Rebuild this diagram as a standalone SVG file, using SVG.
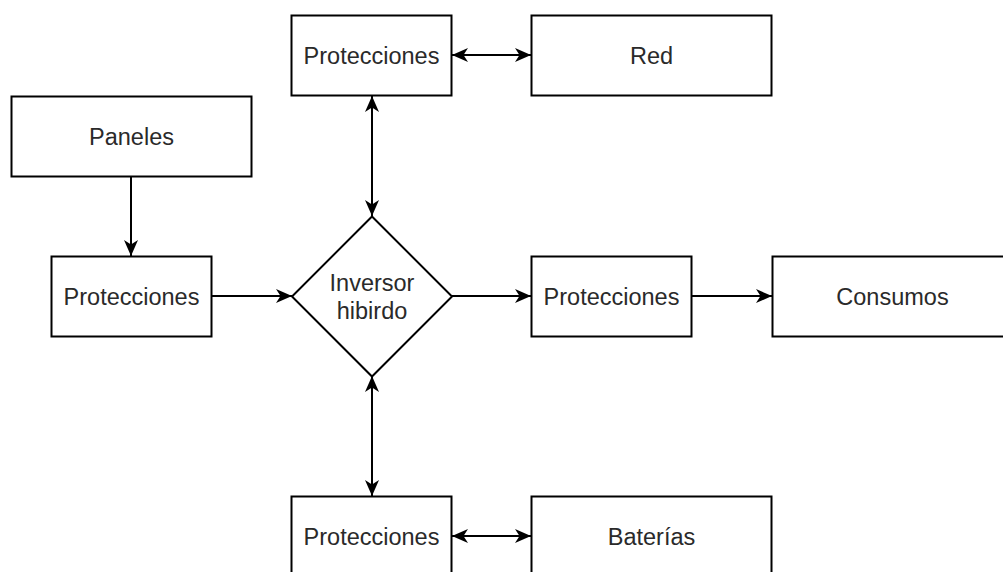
<svg xmlns="http://www.w3.org/2000/svg" width="1003" height="572" viewBox="0 0 1003 572">
<style>
.n{fill:#fff;stroke:#000;stroke-width:2}
.t{font-family:"Liberation Sans",Arial,sans-serif;font-size:23.5px;fill:#2a2a2a;text-anchor:middle}
.c{fill:none;stroke:#000;stroke-width:2}
</style>
<defs>
<marker id="ah" viewBox="0 0 16 16" refX="16" refY="8" markerWidth="16" markerHeight="16" markerUnits="userSpaceOnUse" orient="auto-start-reverse">
<path d="M16,8 L0,1 L4.5,8 L0,15 Z" fill="#000"/>
</marker>
</defs>
<rect width="1003" height="572" fill="#fff"/>
<g id="connectors">
<line class="c" x1="131" y1="176" x2="131" y2="256" marker-end="url(#ah)"/>
<line class="c" x1="211" y1="296" x2="292" y2="296" marker-end="url(#ah)"/>
<line class="c" x1="452" y1="296" x2="531" y2="296" marker-end="url(#ah)"/>
<line class="c" x1="691" y1="296" x2="772" y2="296" marker-end="url(#ah)"/>
<line class="c" x1="452" y1="55" x2="531" y2="55" marker-start="url(#ah)" marker-end="url(#ah)"/>
<line class="c" x1="372" y1="96" x2="372" y2="216" marker-start="url(#ah)" marker-end="url(#ah)"/>
<line class="c" x1="372" y1="376" x2="372" y2="496" marker-start="url(#ah)" marker-end="url(#ah)"/>
<line class="c" x1="452" y1="536" x2="531" y2="536" marker-start="url(#ah)" marker-end="url(#ah)"/>
</g>
<g id="prot-top"><rect class="n" x="291.5" y="15.5" width="160" height="80"/><text class="t" x="371.5" y="63.5">Protecciones</text></g>
<g id="red"><rect class="n" x="531.5" y="15.5" width="240" height="80"/><text class="t" x="651.5" y="63.5">Red</text></g>
<g id="paneles"><rect class="n" x="11.5" y="96.5" width="240" height="80"/><text class="t" x="131.5" y="144.5">Paneles</text></g>
<g id="prot-left"><rect class="n" x="51.5" y="256.5" width="160" height="80"/><text class="t" x="131.5" y="304.5">Protecciones</text></g>
<g id="inversor"><path class="n" d="M372,216.5 L452,296.5 L372,376.5 L292,296.5 Z"/><text class="t" x="372" y="290.5">Inversor</text><text class="t" x="372" y="318.5">hibirdo</text></g>
<g id="prot-mid"><rect class="n" x="531.5" y="256.5" width="160" height="80"/><text class="t" x="611.5" y="304.5">Protecciones</text></g>
<g id="consumos"><rect class="n" x="772.5" y="256.5" width="240" height="80"/><text class="t" x="892.5" y="304.5">Consumos</text></g>
<g id="prot-bottom"><rect class="n" x="291.5" y="496.5" width="160" height="80"/><text class="t" x="371.5" y="544.5">Protecciones</text></g>
<g id="baterias"><rect class="n" x="531.5" y="496.5" width="240" height="80"/><text class="t" x="651.5" y="544.5">Baterías</text></g>
</svg>
